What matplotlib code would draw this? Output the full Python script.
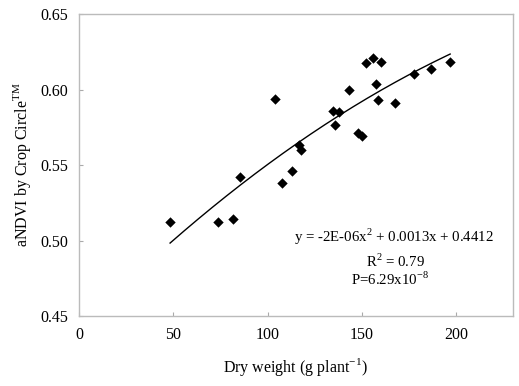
import numpy as np
import matplotlib
matplotlib.use("Agg")
import matplotlib.pyplot as plt

plt.rcParams['font.family'] = ['Liberation Serif', 'DejaVu Serif']
plt.rcParams['mathtext.fontset'] = 'custom'
plt.rcParams['mathtext.rm'] = 'Liberation Serif'

dry_weight = [48.3, 73.7, 81.7, 85.4, 104.0, 107.5, 113.2, 116.9, 117.8, 134.9,
              135.8, 138.1, 143.4, 147.7, 150.0, 152.1, 156.0, 157.4, 158.6, 160.0,
              167.6, 177.7, 186.9, 196.8]
andvi = [0.512, 0.512, 0.514, 0.542, 0.594, 0.538, 0.546, 0.563, 0.560, 0.586,
         0.5765, 0.585, 0.600, 0.5715, 0.569, 0.6175, 0.621, 0.6035, 0.593, 0.618,
         0.591, 0.610, 0.6135, 0.618]

x_ticks = [0, 50, 100, 150, 200]
y_ticks = [0.45, 0.50, 0.55, 0.60, 0.65]
y_tick_labels = ['0.45', '0.50', '0.55', '0.60', '0.65']

fig = plt.figure(figsize=(5.19, 3.86), dpi=100)
ax = fig.add_axes([0.1522, 0.1813, 0.988 - 0.1522, 0.9637 - 0.1813])

ax.scatter(dry_weight, andvi, marker='D', s=28, color='black', zorder=3, linewidths=0)

coef = np.polyfit(dry_weight, andvi, 2)
xs = np.linspace(min(dry_weight), max(dry_weight), 200)
ax.plot(xs, np.polyval(coef, xs), color='black', lw=1.0)

ax.set_xlim(0, 230)
ax.set_ylim(0.45, 0.65)
ax.set_xticks(x_ticks)
ax.set_yticks(y_ticks)
ax.set_yticklabels(y_tick_labels)
ax.tick_params(direction='in', length=3, color='#aaaaaa', labelsize=11.5, pad=8)
ax.tick_params(axis='x', pad=8)
for s in ax.spines.values():
    s.set_color('#bbbbbb')
    s.set_linewidth(1.0)

ax.set_xlabel('Dry weight (g plant$^{\\mathregular{-1}}$)', fontsize=11.5, labelpad=9)
ax.set_ylabel('aNDVI by Crop Circle$^{\\mathregular{TM}}$', fontsize=11.5, labelpad=5)

ax.text(167, 0.5023, 'y = -2E-06x$^{\\mathregular{2}}$ + 0.0013x + 0.4412',
        ha='center', va='center', fontsize=10.7)
ax.text(168, 0.4865, 'R$^{\\mathregular{2}}$ = 0.79', ha='center', va='center', fontsize=10.7)
ax.text(165, 0.4745, 'P=6.29x10$^{\\mathregular{-8}}$', ha='center', va='center', fontsize=10.7)

fig.savefig('out.png', dpi=100)
